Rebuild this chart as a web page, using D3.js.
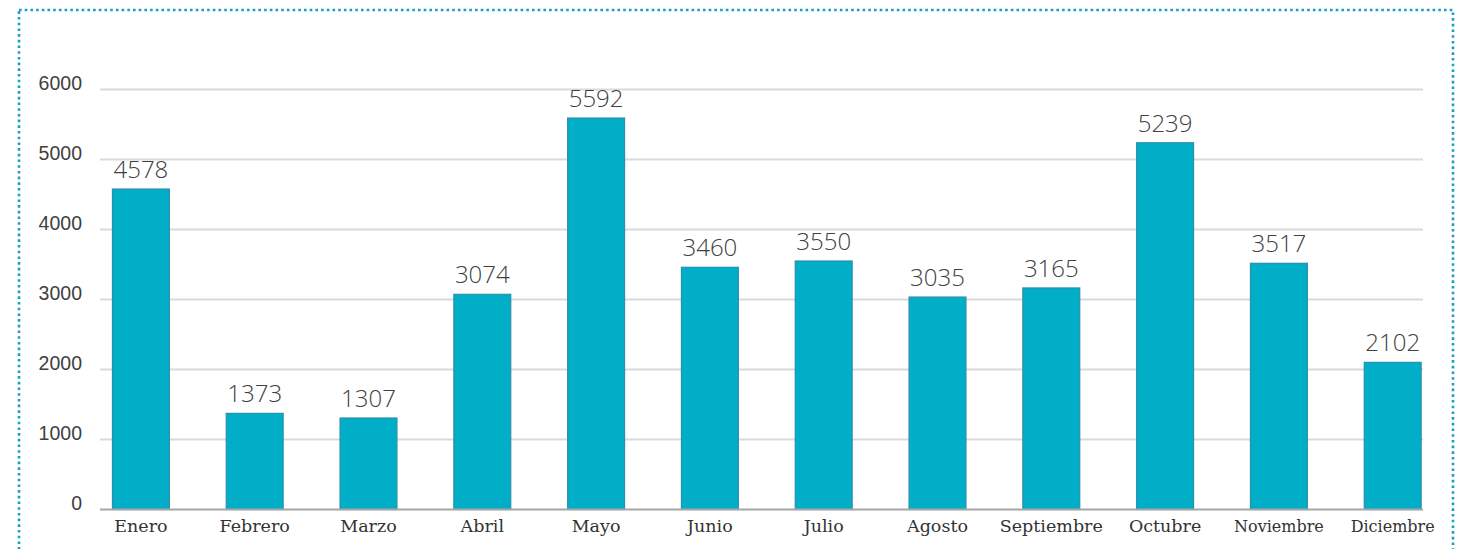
<!DOCTYPE html>
<html><head><meta charset="utf-8">
<script src="https://cdn.jsdelivr.net/npm/d3@7"></script>
<style>html,body{margin:0;padding:0;background:#fff;}svg{display:block;}</style>
</head><body>
<svg id="chart" width="1469" height="549"></svg>
<script>
const months = ["Enero","Febrero","Marzo","Abril","Mayo","Junio","Julio","Agosto","Septiembre","Octubre","Noviembre","Diciembre"];
const values = [4578,1373,1307,3074,5592,3460,3550,3035,3165,5239,3517,2102];
const yTicks = [0,1000,2000,3000,4000,5000,6000];

const svg = d3.select("#chart");
// dotted frame
svg.append("rect").attr("x",19).attr("y",10).attr("width",1434).attr("height",600)
  .attr("fill","none").attr("stroke","#1a9fc2").attr("stroke-width",2.6)
  .attr("stroke-dasharray","2.6 3.1");

const y = d3.scaleLinear().domain([0,6000]).range([509.5,89.5]);
const x = d3.scaleBand().domain(months).range([84, 84+12*113.8]).paddingInner(0.5).paddingOuter(0.25);

const gx0 = 100, gx1 = 1423;
// gridlines
svg.append("g").selectAll("line").data(yTicks.filter(d=>d>0)).join("line")
  .attr("x1",gx0).attr("x2",gx1).attr("y1",d=>y(d)).attr("y2",d=>y(d))
  .attr("stroke","#d9d9d9").attr("stroke-width",2);
// y labels
svg.append("g").selectAll("text").data(yTicks).join("text")
  .attr("x",82).attr("y",d=>y(d)+0.5).attr("text-anchor","end")
  .attr("font-family","Liberation Sans, Arial, sans-serif").attr("font-size",19.5)
  .attr("fill","#404040").text(d=>d);

// bars
svg.append("g").selectAll("rect").data(values).join("rect")
  .attr("x",(d,i)=>x(months[i])).attr("width",x.bandwidth())
  .attr("y",d=>y(d)).attr("height",d=>y(0)-y(d))
  .attr("fill","#00aec7").attr("stroke","#2b8fae").attr("stroke-width",1.2);

// axis line
svg.append("line").attr("x1",gx0).attr("x2",gx1).attr("y1",y(0)).attr("y2",y(0))
  .attr("stroke","#a6a6a6").attr("stroke-width",2);

// value labels
svg.append("g").selectAll("text").data(values).join("text")
  .attr("x",(d,i)=>x(months[i])+x.bandwidth()/2).attr("y",d=>y(d)-11)
  .attr("text-anchor","middle").attr("font-family","Open Sans, sans-serif")
  .attr("font-weight",300).attr("font-size",24).attr("fill","#404040").text(d=>d);

// x labels
svg.append("g").selectAll("text").data(months).join("text")
  .attr("x",d=>x(d)+x.bandwidth()/2).attr("y",532)
  .attr("text-anchor","middle").attr("font-family","DejaVu Serif, serif")
  .attr("font-size",(d,i)=>i>=10?16:17.5).attr("fill","#333").text(d=>d);
</script>
</body></html>
